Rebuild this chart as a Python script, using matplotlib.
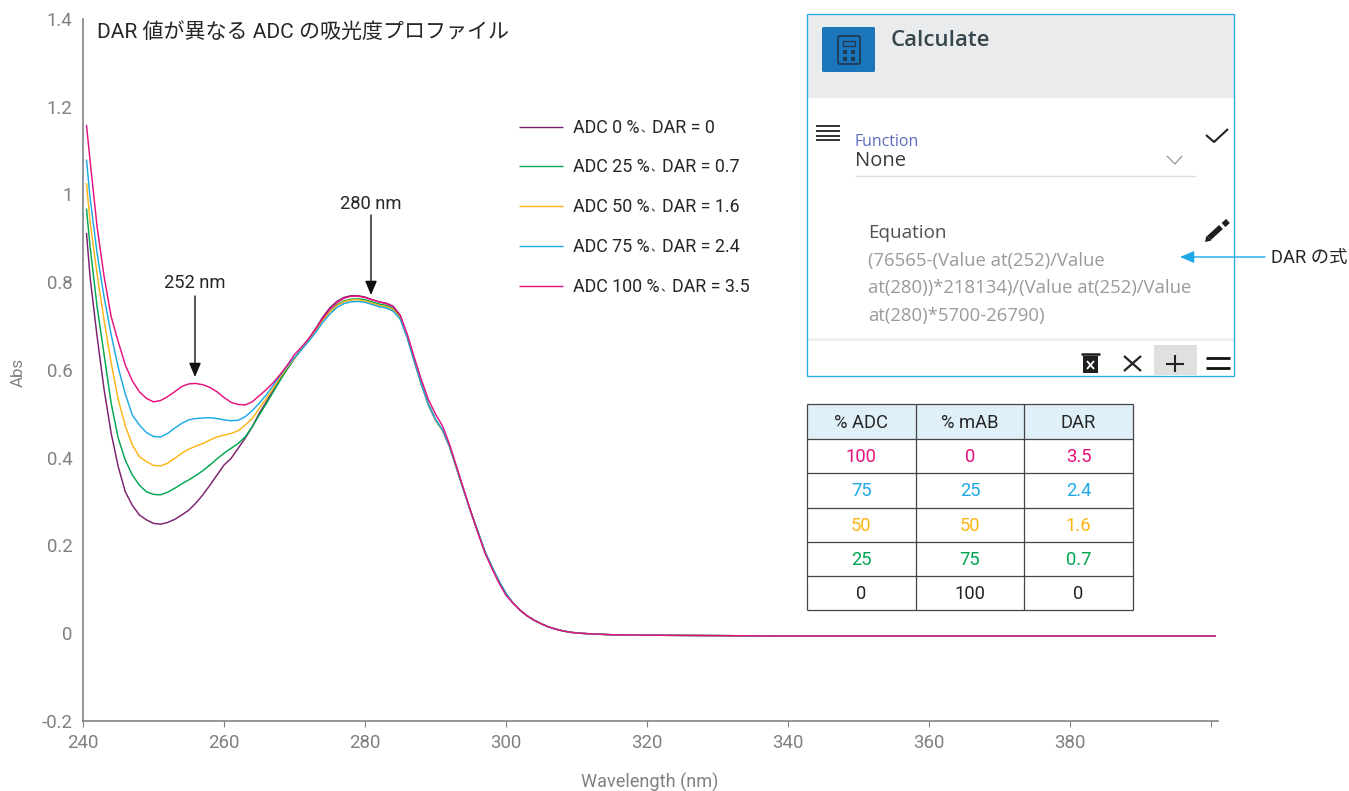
import matplotlib
matplotlib.use("Agg")
import matplotlib.pyplot as plt
from matplotlib.patches import Rectangle, FancyBboxPatch, Polygon

# --- data ---
WL_HEAD = [240.5] + list(range(241, 301))
WL_TAIL = [301, 302, 303, 304, 305, 306, 307, 308, 309, 310, 312, 315, 320, 330, 340, 350, 360, 370, 380, 390, 400.6]
ABS_TAIL = [.068, .052, .039, .029, .021, .014, .009, .005, .002, .000, -.002, -.004, -.005, -.006,
            -.007, -.007, -.007, -.007, -.007, -.007, -.007]

ADC_0 = [.911, .812, .676, .554, .455, .379, .322, .291, .269, .258, .250, .248, .252, .259, .269, .280,
         .296, .315, .337, .360, .383, .398, .421, .444, .470, .501, .527, .554, .580, .603, .626,
         .648, .670, .694, .720, .741, .756, .765, .769, .769, .766, .760, .755, .752, .745, .724,
         .677, .620, .567, .520, .485, .462, .424, .375, .325, .277, .232, .186, .151, .118, .090]
ADC_25 = [.966, .881, .744, .634, .523, .444, .394, .360, .337, .322, .316, .315, .321, .330, .340, .349,
          .359, .370, .383, .397, .410, .421, .432, .447, .470, .497, .523, .550, .577, .603, .626,
          .648, .669, .690, .714, .733, .748, .757, .761, .762, .760, .755, .750, .747, .740, .720,
          .675, .620, .568, .522, .487, .463, .425, .375, .325, .277, .232, .186, .151, .118, .090]
ADC_50 = [1.024, .938, .818, .712, .615, .532, .472, .429, .402, .391, .382, .381, .387, .398, .410, .419,
          .426, .432, .440, .447, .451, .455, .461, .474, .489, .512, .535, .558, .584, .607, .626,
          .647, .668, .689, .713, .732, .746, .755, .759, .760, .757, .752, .747, .744, .737, .718,
          .673, .618, .566, .520, .485, .462, .424, .375, .325, .276, .231, .185, .150, .117, .089]
ADC_75 = [1.078, .993, .866, .765, .680, .605, .545, .497, .474, .457, .448, .447, .455, .467, .478, .486,
          .489, .490, .491, .489, .486, .484, .485, .493, .507, .524, .543, .565, .588, .609, .628,
          .646, .665, .685, .708, .727, .742, .751, .755, .756, .754, .749, .744, .741, .734, .715,
          .672, .618, .567, .520, .487, .463, .425, .376, .325, .276, .231, .186, .151, .118, .090]
ADC_100 = [1.157, 1.078, .926, .812, .721, .664, .611, .575, .550, .535, .527, .530, .539, .550, .562, .568,
           .569, .566, .560, .550, .537, .526, .521, .520, .527, .541, .555, .571, .590, .611, .635,
           .652, .671, .693, .717, .738, .753, .763, .768, .768, .765, .760, .755, .751, .744, .724,
           .681, .628, .577, .532, .499, .472, .430, .379, .328, .277, .229, .183, .147, .114, .086]

SERIES = [ADC_0, ADC_25, ADC_50, ADC_75, ADC_100]
LABEL_LEFT = ["ADC 0 %", "ADC 25 %", "ADC 50 %", "ADC 75 %", "ADC 100 %"]
LABEL_RIGHT = ["DAR = 0", "DAR = 0.7", "DAR = 1.6", "DAR = 2.4", "DAR = 3.5"]
COLORS = ["#7B1F6F", "#00A651", "#FDB515", "#1CA9E6", "#E6107E"]

X_TICKS = [240, 260, 280, 300, 320, 340, 360, 380, 400]
X_TICK_LABELS = ["240", "260", "280", "300", "320", "340", "360", "380", ""]
Y_TICKS = [-0.2, 0, 0.2, 0.4, 0.6, 0.8, 1, 1.2, 1.4]
Y_TICK_LABELS = ["-0.2", "0", "0.2", "0.4", "0.6", "0.8", "1", "1.2", "1.4"]

TABLE_HEAD = ["% ADC", "% mAB", "DAR"]
TABLE_ROWS = [["100", "0", "3.5"], ["75", "25", "2.4"], ["50", "50", "1.6"], ["25", "75", "0.7"], ["0", "100", "0"]]
TABLE_COLORS = ["#E6107E", "#1CA9E6", "#FDB515", "#00A651", "#222222"]

EQUATION = ["(76565-(Value at(252)/Value", "at(280))*218134)/(Value at(252)/Value", "at(280)*5700-26790)"]

W, H = 1349, 791
FONT = ["Roboto", "Noto Sans CJK JP"]
plt.rcParams["font.family"] = FONT
GREY = "#808080"
AXC = "#7F8389"
TXT = "#262626"

fig = plt.figure(figsize=(W / 100, H / 100), dpi=100)

# --- main chart ---
ax = fig.add_axes([83 / W, 1 - 720.7 / H, 1134.7 / W, 701.7 / H])
for vals, col in zip(SERIES, COLORS):
    ax.plot(WL_HEAD + WL_TAIL, vals + ABS_TAIL, color=col, lw=1.05)
ax.set_xlim(240, 400.95)
ax.set_ylim(-0.2, 1.4)
ax.set_xticks(X_TICKS, X_TICK_LABELS)
ax.set_yticks(Y_TICKS, Y_TICK_LABELS)
ax.tick_params(axis="x", length=4.3, width=0.8, color=AXC, labelcolor=GREY, labelsize=13.4, pad=5)
ax.tick_params(axis="y", length=0, labelcolor=GREY, labelsize=13.4, pad=7.5)
for s in ["top", "right"]:
    ax.spines[s].set_visible(False)
for s in ["left", "bottom"]:
    ax.spines[s].set_color(AXC)
    ax.spines[s].set_linewidth(1.2)

# --- overlay in pixel coordinates for the annotations, table and panel ---
ov = fig.add_axes([0, 0, 1, 1], facecolor="none")
ov.set_xlim(0, W)
ov.set_ylim(H, 0)
ov.axis("off")


def label(x, y, s, size=13.2, color=TXT, ha="left", **kw):
    ov.text(x, y, s, fontsize=size, color=color, ha=ha, va="center", **kw)


def line(xs, ys, color="#111111", lw=1.0):
    ov.plot(xs, ys, color=color, lw=lw, solid_capstyle="butt")


def arrow(x0, y0, x1, y1, color="#111111"):
    ov.annotate("", xy=(x1, y1), xytext=(x0, y0),
                arrowprops=dict(arrowstyle="-|>,head_length=0.85,head_width=0.36", color=color,
                                lw=1.0, shrinkA=0, shrinkB=0, mutation_scale=10))


label(97, 32, "DAR 値が異なる ADC の吸光度プロファイル", size=15.1)
label(18, 372, "Abs", size=12.2, color=GREY, ha="center", rotation=90)
label(650, 782, "Wavelength (nm)", size=13.1, color=GREY, ha="center")

# legend
for y, left, right, col, dar_x in zip([127, 166, 206, 246, 286], LABEL_LEFT, LABEL_RIGHT, COLORS,
                                      [652, 662, 662, 662, 672]):
    line([519, 563], [y, y], color=col, lw=1.0)
    label(573, y + 1, left, size=12.9)
    label(dar_x - 12, y + 2, "、", size=8.5, family=["Noto Sans CJK JP"])
    label(dar_x, y + 1, right, size=12.9)

label(371, 204, "280 nm", ha="center")
arrow(371, 215, 371, 295)
label(195, 283, "252 nm", ha="center")
arrow(195, 296, 195, 377)

# table
col_x = [807, 915.7, 1024.3, 1132.7]
row_y = [404, 439, 473.3, 507.7, 541.7, 576, 610]
ov.add_patch(Rectangle((col_x[0], row_y[0]), col_x[3] - col_x[0], row_y[1] - row_y[0], fc="#DFF0F8", ec="none"))
for x in col_x:
    line([x, x], [row_y[0], row_y[-1]], color="#444444", lw=0.9)
for y in row_y:
    line([col_x[0], col_x[-1]], [y, y], color="#444444", lw=0.9)
for j, s in enumerate(TABLE_HEAD):
    label((col_x[j] + col_x[j + 1]) / 2, (row_y[0] + row_y[1]) / 2 + 1, s, ha="center")
for i, row in enumerate(TABLE_ROWS):
    for j, s in enumerate(row):
        label((col_x[j] + col_x[j + 1]) / 2, (row_y[i + 1] + row_y[i + 2]) / 2 + 1, s,
              color=TABLE_COLORS[i], ha="center")

# screenshot panel
ov.add_patch(Rectangle((807, 14), 427, 84, fc="#E9EBEC", ec="none"))
ov.add_patch(Rectangle((1154, 345), 43, 30, fc="#E0E0E0", ec="none"))
ov.add_patch(Rectangle((807, 14), 427, 361.5, fc="none", ec="#29ABE2", lw=0.95, zorder=5))
ov.add_patch(FancyBboxPatch((822, 27), 53, 45, boxstyle="round,pad=0,rounding_size=1.5", fc="#1B75BB", ec="none"))
ov.add_patch(FancyBboxPatch((838, 36), 22, 28, boxstyle="round,pad=0,rounding_size=2", fc="none", ec="#1F3A55", lw=1.3))
ov.add_patch(Rectangle((843, 41), 12, 4.5, fc="none", ec="#1F3A55", lw=1.0))
for bx in [843, 851]:
    for by in [50, 57]:
        ov.add_patch(Rectangle((bx, by), 4, 3.5, fc="#1F3A55", ec="none"))
label(891, 41, "Calculate", size=16, color="#37464F", family="Open Sans", weight="semibold")

for y in [126, 131, 135.5, 140]:
    line([816, 840], [y, y], color="#222222", lw=1.3)
label(855, 142, "Function", size=11.4, color="#5C6BC0", family="Open Sans")
label(855, 161, "None", size=14.5, color="#3A3A3A", family="Open Sans")
line([1167, 1175, 1182], [156, 164, 156], color="#9E9E9E", lw=1.0)
line([855, 1196], [175.5, 175.5], color="#DDDDDD", lw=1.0)
line([1206, 1214, 1228], [135, 142, 129], color="#222222", lw=1.5)

line([1209, 1221], [238, 227], color="#1E1E1E", lw=4.0)
line([1223.5, 1228], [225, 221], color="#1E1E1E", lw=4.0)
ov.add_patch(Polygon([(1205, 242), (1206.5, 235.5), (1211.5, 240.5)], fc="#1E1E1E", ec="none"))
label(868, 233, "Equation", size=13.6, color="#505050", family="Open Sans")
for y, s in zip([261, 288, 316], EQUATION):
    label(868, y, s, size=13.3, color="#9A9A9A", family="Open Sans")

line([807, 1234], [339, 339], color="#EEEEEE", lw=1.8)
# trash, cross, plus, equals icons
ov.add_patch(Rectangle((1083, 356), 15, 17, fc="#1E1E1E", ec="none"))
line([1081, 1100], [353.5, 353.5], color="#1E1E1E", lw=1.8)
line([1087, 1094], [361, 369], color="white", lw=1.3)
line([1087, 1094], [369, 361], color="white", lw=1.3)
line([1124, 1141], [356, 371], color="#222222", lw=1.6)
line([1124, 1141], [371, 356], color="#222222", lw=1.6)
line([1166, 1184], [363.5, 363.5], color="#222222", lw=1.5)
line([1175, 1175], [355, 372], color="#222222", lw=1.5)
for y in [358, 368]:
    line([1206, 1230], [y, y], color="#111111", lw=2.0)

# equation callout
arrow(1265, 257, 1180, 257, color="#1CA9E6")
label(1271, 258, "DAR の式")

fig.savefig("out.png", dpi=100)
